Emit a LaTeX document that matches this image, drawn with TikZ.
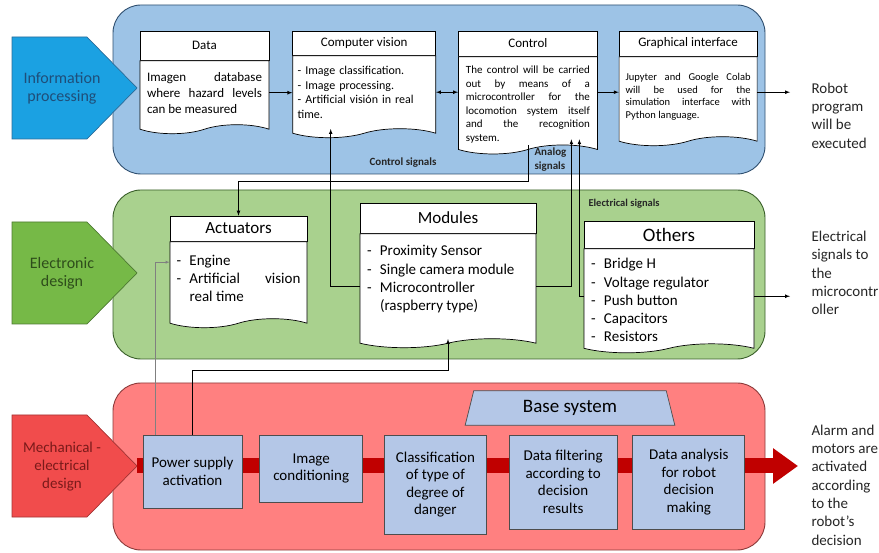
\documentclass[tikz,border=0pt]{standalone}
\usepackage{fontspec}
\setmainfont{Carlito}
\usetikzlibrary{positioning,calc,shapes.symbols,shapes.geometric,arrows.meta}

\definecolor{infofill}{HTML}{9DC3E6}
\definecolor{infoline}{HTML}{2F4F6F}
\definecolor{elecfill}{HTML}{A9D18E}
\definecolor{elecline}{HTML}{3A5F2A}
\definecolor{mechfill}{HTML}{FF8080}
\definecolor{mechline}{HTML}{8C3A3A}
\definecolor{infotag}{HTML}{1BA1E2}
\definecolor{infotagline}{HTML}{2B6C99}
\definecolor{infotext}{HTML}{1F4E79}
\definecolor{electag}{HTML}{76B947}
\definecolor{electagline}{HTML}{4E7A32}
\definecolor{electext}{HTML}{2E4D1B}
\definecolor{mechtag}{HTML}{F14C4C}
\definecolor{mechtagline}{HTML}{A33333}
\definecolor{mechtext}{HTML}{7A1A1A}
\definecolor{boxfill}{HTML}{B4C7E7}
\definecolor{boxline}{HTML}{4D4D4D}
\definecolor{bandred}{HTML}{C00000}

\newcommand{\itm}{\par\noindent\hangindent=13pt\hangafter=1\makebox[13pt][l]{-}}
% struts that push the text of a body up or down
\newcommand{\lift}[1]{\rule[-#1]{0pt}{0pt}}
\newcommand{\drop}[1]{\rule{0pt}{#1}}

\begin{document}
\begin{tikzpicture}[
        x=1pt, y=-1pt,
        node distance=20pt,
        panel/.style={rectangle, rounded corners=28pt, line width=0.9pt, minimum width=652pt},
        tagshape/.style={line width=0.7pt},
        tagtext/.style={align=center, font=\fontsize{16}{18}\selectfont},
        dochead/.style={rectangle, draw, fill=white, line width=0.7pt, inner sep=0pt, font=\fontsize{13}{15}\selectfont},
        bighead/.style={dochead, font=\fontsize{17}{19}\selectfont},
        docbody/.style={tape, tape bend top=none, tape bend bottom=in and out, tape bend height=9pt, inner ysep=2pt, draw, fill=white, line width=0.7pt, align=justify},
        bluebox/.style={rectangle, draw=boxline, fill=boxfill, line width=0.7pt, align=center, font=\fontsize{15}{17.5}\selectfont},
        outtext/.style={align=left, anchor=west, text=black!85, font=\fontsize{15}{18.3}\selectfont},
        siglabel/.style={align=left, text=black!85, font=\bfseries\fontsize{11}{14}\selectfont},
        arrow/.style={->, >=latex, line width=0.7pt},
        thinarrow/.style={->, >=latex, draw=black!50, line width=0.4pt},
        band/.style={-{Triangle[length=25pt, width=34pt]}, draw=bandred, line width=15pt}
    ]
    \useasboundingbox (0,0) rectangle (879,553);

    % Panels
    \node[panel, draw=infoline, fill=infofill, minimum height=169pt] (infopanel) at (439,89.5) {};
    \node[panel, draw=elecline, fill=elecfill, minimum height=169pt] (elecpanel) at (439,274.5) {};
    \node[panel, draw=mechline, fill=mechfill, minimum height=167pt] (mechpanel) at (439,466.5) {};

    % Tags on the left
    \filldraw[tagshape, draw=infotagline, fill=infotag] (12,37) -- (87,37) -- (137,88) -- (87,139) -- (12,139) -- cycle;
    \filldraw[tagshape, draw=electagline, fill=electag] (12,222) -- (87,222) -- (137,273) -- (87,324) -- (12,324) -- cycle;
    \filldraw[tagshape, draw=mechtagline, fill=mechtag] (12,415) -- (87,415) -- (137,466) -- (87,517) -- (12,517) -- cycle;
    \node[tagtext, text=infotext] (infotag) at (62,88) {Information\\processing};
    \node[tagtext, text=electext] (electag) at (62,273) {Electronic\\design};
    \node[tagtext, text=mechtext, font=\fontsize{15}{18}\selectfont] (mechtag) at (62,467) {Mechanical -\\electrical\\design};
    \coordinate (mechtip) at (137,466);

    % Output texts
    \node[outtext] (robottxt) at (808,115.5) {Robot\\program\\will be\\executed};
    \node[outtext] (elecsigtxt) at (808,273) {Electrical\\signals to\\the\\microcontr\\oller};
    \node[outtext] (alarmtxt) at (808,485) {Alarm and\\motors are\\activated\\according\\to the\\robot’s\\decision};

    % Information processing row
    \node[dochead, minimum width=129pt, minimum height=29pt] (datahead) at (204.5,45.5) {Data};
    \node[docbody, minimum width=129pt, minimum height=73pt, text width=115pt, font=\fontsize{13}{16}\selectfont] (databody) [below=0pt of datahead] {Imagen database\linebreak where hazard levels\linebreak can be measured};

    \node[dochead, minimum width=143pt, minimum height=24pt] (cvhead) [right=23pt of datahead.north east, anchor=north west] {Computer vision};
    \node[docbody, minimum width=143pt, minimum height=82pt, text width=133pt, align=left, font=\fontsize{12}{14.5}\selectfont] (cvbody) [below=0pt of cvhead] {- Image classification.\par - Image processing.\par - Artificial visión in real time.};

    \node[dochead, minimum width=139pt, minimum height=25pt] (ctrlhead) [right=22pt of cvhead.north east, anchor=north west] {Control};
    \node[docbody, minimum width=139pt, minimum height=89pt, text width=124pt, font=\fontsize{11}{13.5}\selectfont] (ctrlbody) [below=0pt of ctrlhead] {\drop{15pt}The control will be carried\linebreak out by means of a\linebreak microcontroller for the\linebreak locomotion system itself\linebreak and the recognition\linebreak system.};

    \node[dochead, minimum width=138pt, minimum height=25pt] (guihead) [right=21pt of ctrlhead.north east, anchor=north west] {Graphical interface};
    \node[docbody, minimum width=138pt, minimum height=89pt, text width=125pt, font=\fontsize{10.5}{12.7}\selectfont] (guibody) [below=0pt of guihead] {Jupyter and Google Colab\linebreak will be used for the\linebreak simulation interface with\linebreak Python language.};

    % Electronic design row
    \node[bighead, minimum width=137pt, minimum height=25pt] (acthead) at (238.5,228.5) {Actuators};
    \node[docbody, minimum width=137pt, minimum height=86pt, text width=124pt, font=\fontsize{15}{18}\selectfont] (actbody) [below=0pt of acthead] {\itm Engine \itm Artificial vision real time\lift{12pt}\par};

    \node[bighead, minimum width=176pt, minimum height=30pt] (modhead) at (448,218) {Modules};
    \node[docbody, minimum width=176pt, minimum height=114pt, text width=162pt, font=\fontsize{15}{18.3}\selectfont] (modbody) [below=0pt of modhead] {\itm Proximity Sensor \itm Single camera module \itm Microcontroller\newline (raspberry type)\lift{24pt}\par};

    \node[bighead, minimum width=170pt, minimum height=27pt, font=\fontsize{19}{21}\selectfont] (othhead) at (669,234.5) {Others};
    \node[docbody, minimum width=170pt, minimum height=102pt, text width=156pt, font=\fontsize{15}{18.2}\selectfont] (othbody) [below=0pt of othhead] {\itm Bridge H \itm Voltage regulator \itm Push button \itm Capacitors \itm Resistors\par};

    % Mechanical - electrical row
    \draw[band, shorten >=10pt] (mechtip) -- (mechtip -| alarmtxt.west);
    \node[bluebox, minimum width=99pt, minimum height=73pt] (pwr) at (192.5,471.5) {Power supply\\activation};
    \node[bluebox, minimum width=103pt, minimum height=67pt] (imgc) [right=17pt of pwr.north east, anchor=north west] {Image\\conditioning};
    \node[bluebox, minimum width=102pt, minimum height=99pt] (classif) [right=21pt of imgc.north east, anchor=north west] {Classification\\of type of\\degree of\\danger};
    \node[bluebox, minimum width=108pt, minimum height=94pt] (filt) [right=22pt of classif.north east, anchor=north west] {Data filtering\\according to\\decision\\results};
    \node[bluebox, minimum width=112pt, minimum height=94pt] (anal) [right=15pt of filt.north east, anchor=north west] {Data analysis\\for robot\\decision\\making};
    \node[trapezium, trapezium left angle=76, trapezium right angle=76, draw=boxline, fill=boxfill, line width=0.7pt, minimum width=210pt, minimum height=28pt, inner sep=1pt, font=\fontsize{19}{21}\selectfont] (basesys) at (570,408) {Base system};

    % Signal labels
    \node[siglabel] (ctrllabel) at (403,163) {Control signals};
    \node[siglabel, anchor=west] (analoglabel) at (531,160) {Analog\\signals};
    \node[siglabel, anchor=west, font=\bfseries\fontsize{10.5}{12}\selectfont] (eleclabel) at (585,204) {Electrical signals};

    % Connections
    \coordinate (ctrlsig) at (0,181);
    \draw[arrow] (databody.east) -- (databody.east -| cvbody.west);
    \draw[arrow, <->] (cvbody.east) -- (cvbody.east -| ctrlbody.west);
    \draw[arrow] (ctrlbody.east |- cvbody.east) -- (cvbody.east -| guibody.west);
    \draw[arrow, shorten >=18pt] (guibody.east |- cvbody.east) -- (cvbody.east -| robottxt.west);

    \draw[arrow] (ctrlbody.south) -- (ctrlbody.south |- ctrlsig) -| (acthead.north);
    \draw[arrow] (modbody.west) -| ([xshift=-33.5pt]cvbody.south);
    \draw[arrow] (modbody.east) -| ([xshift=43.5pt, yshift=6pt]ctrlbody.south);
    \draw[arrow] (othbody.west) -| ([xshift=51.5pt, yshift=6pt]ctrlbody.south);
    \draw[arrow, shorten >=18pt] (othbody.east) -- (othbody.east -| elecsigtxt.west);

    \draw[thinarrow] ([xshift=-37.5pt]pwr.north) |- ([yshift=18pt]actbody.west);
    \draw[arrow] (pwr.north) -- ++(0,-64) -| (modbody.south);

    \end{tikzpicture}
\end{document}
